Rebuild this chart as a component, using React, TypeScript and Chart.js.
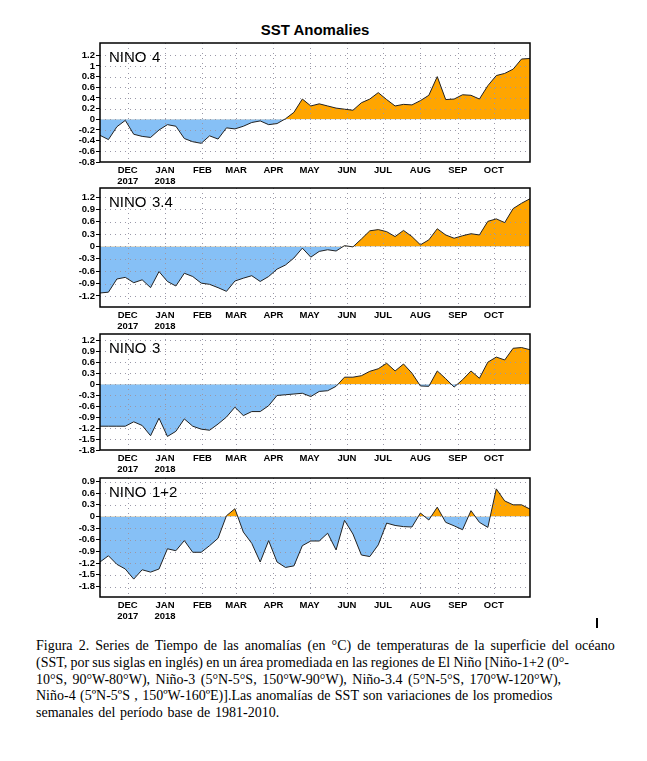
import React, { useEffect, useRef } from "react";
import { Chart, registerables } from "chart.js";

Chart.register(...registerables);

// ---- data (weekly, centred on Wednesdays from 8 Nov 2017 to 31 Oct 2018) ----
const startDate = "2017-11-08";
const nino4 = [-0.3, -0.38, -0.14, -0.02, -0.28, -0.32, -0.34, -0.2, -0.1, -0.13,
  -0.36, -0.42, -0.45, -0.31, -0.37, -0.16, -0.18, -0.13, -0.06, -0.03,
  -0.1, -0.08, 0.01, 0.13, 0.38, 0.25, 0.29, 0.25, 0.21, 0.19,
  0.17, 0.31, 0.38, 0.5, 0.37, 0.25, 0.28, 0.27, 0.35, 0.45,
  0.8, 0.37, 0.38, 0.46, 0.45, 0.38, 0.63, 0.82, 0.86, 0.94,
  1.13, 1.14];
const nino34 = [-1.13, -1.11, -0.79, -0.75, -0.88, -0.81, -1.0, -0.61, -0.85, -0.96,
  -0.65, -0.73, -0.89, -0.92, -1.0, -1.09, -0.84, -0.77, -0.71, -0.85,
  -0.73, -0.55, -0.45, -0.28, -0.04, -0.26, -0.12, -0.08, -0.11, 0.02,
  -0.01, 0.18, 0.38, 0.41, 0.36, 0.24, 0.39, 0.24, 0.04, 0.16,
  0.43, 0.28, 0.2, 0.26, 0.31, 0.28, 0.61, 0.67, 0.58, 0.92,
  1.05, 1.16];
const nino3 = [-1.15, -1.15, -1.15, -1.15, -1.03, -1.13, -1.41, -0.93, -1.43, -1.29,
  -0.95, -1.15, -1.23, -1.26, -1.09, -0.9, -0.63, -0.86, -0.75, -0.75,
  -0.59, -0.31, -0.29, -0.27, -0.25, -0.34, -0.2, -0.18, -0.06, 0.19,
  0.19, 0.23, 0.35, 0.42, 0.57, 0.36, 0.55, 0.3, -0.05, -0.06,
  0.36, 0.15, -0.08, 0.12, 0.36, 0.16, 0.6, 0.74, 0.66, 0.98,
  1.0, 0.94];
const nino12 = [-1.17, -1.01, -1.23, -1.35, -1.61, -1.37, -1.43, -1.35, -0.83, -0.88,
  -0.62, -0.92, -0.92, -0.75, -0.56, 0.02, 0.2, -0.4, -0.69, -1.17,
  -0.62, -1.17, -1.31, -1.27, -0.75, -0.63, -0.63, -0.43, -0.86, -0.1,
  -0.45, -0.99, -1.03, -0.73, -0.17, -0.23, -0.26, -0.27, 0.09, -0.09,
  0.24, -0.15, -0.24, -0.34, 0.15, -0.15, -0.28, 0.71, 0.4, 0.3,
  0.3, 0.19];

const monthTickDates = ["2017-12-01", "2018-01-01", "2018-02-01", "2018-03-01", "2018-04-01",
  "2018-05-01", "2018-06-01", "2018-07-01", "2018-08-01", "2018-09-01", "2018-10-01"];
const monthTickLabels: (string | string[])[] = [["DEC", "2017"], ["JAN", "2018"], "FEB", "MAR", "APR",
  "MAY", "JUN", "JUL", "AUG", "SEP", "OCT"];

const yTicks4 = [-0.8, -0.6, -0.4, -0.2, 0, 0.2, 0.4, 0.6, 0.8, 1, 1.2];
const yTicks34 = [-1.2, -0.9, -0.6, -0.3, 0, 0.3, 0.6, 0.9, 1.2];
const yTicks3 = [-1.8, -1.5, -1.2, -0.9, -0.6, -0.3, 0, 0.3, 0.6, 0.9, 1.2];
const yTicks12 = [-1.8, -1.5, -1.2, -0.9, -0.6, -0.3, 0, 0.3, 0.6, 0.9];

const panelNames = ["4", "3.4", "3", "1+2"];
const title = "SST Anomalies";
const captionLines = [
  "Figura 2. Series de Tiempo de las anomalías (en °C) de temperaturas de la superficie del océano",
  "(SST, por sus siglas en inglés) en un área promediada en las regiones de El Niño [Niño-1+2 (0°-",
  "10°S, 90°W-80°W), Niño-3 (5°N-5°S, 150°W-90°W), Niño-3.4 (5°N-5°S, 170°W-120°W),",
  "Niño-4 (5ºN-5ºS , 150ºW-160ºE)].Las anomalías de SST son variaciones de los promedios",
  "semanales del período base de 1981-2010.",
];

// ---- styles / layout ----
const captionWordSpacing = [2.6, -0.3, 2.0, 0.9, 1.2];

const DAY = 86400000;
const dayOffset = (d: string) => Math.round((Date.parse(d) - Date.parse(startDate)) / DAY);
const monthTickDays = monthTickDates.map(dayOffset);

const ORANGE = "#FFA500";
const BLUE = "#86C0F6";

const panels = [
  { name: panelNames[0], values: nino4, ticks: yTicks4, min: -0.8, max: 1.43, top: 43, bottom: 162 },
  { name: panelNames[1], values: nino34, ticks: yTicks34, min: -1.47, max: 1.42, top: 188, bottom: 307 },
  { name: panelNames[2], values: nino3, ticks: yTicks3, min: -1.8, max: 1.37, top: 334, bottom: 450 },
  { name: panelNames[3], values: nino12, ticks: yTicks12, min: -2.07, max: 0.99, top: 478, bottom: 597 },
];

const CANVAS_LEFT = 40;
const CANVAS_W = 500;
const PAD_TOP = 15;
const X_AXIS_H = 30;
const Y_AXIS_W = 60;
const PAD_RIGHT = 10;

const overlayPlugin = {
  id: "overlay",
  beforeDatasetsDraw(chart: any) {
    const { ctx, chartArea: a, scales } = chart;
    const x = scales.x, y = scales.y;
    ctx.save();
    ctx.beginPath();
    ctx.rect(a.left, a.top, a.right - a.left, a.bottom - a.top);
    ctx.clip();
    ctx.strokeStyle = "#9a98a8";
    ctx.lineWidth = 1;
    ctx.setLineDash([1, 4]);
    y.ticks.forEach((t: any) => {
      const py = Math.round(y.getPixelForValue(t.value)) + 0.5;
      ctx.beginPath();
      ctx.moveTo(a.left, py);
      ctx.lineTo(a.right, py);
      ctx.stroke();
    });
    x.ticks.forEach((t: any) => {
      const px = Math.round(x.getPixelForValue(t.value)) + 0.5;
      ctx.beginPath();
      ctx.moveTo(px, a.top);
      ctx.lineTo(px, a.bottom);
      ctx.stroke();
    });
    ctx.restore();
  },
  afterDatasetsDraw(chart: any, _args: any, opts: any) {
    const { ctx, chartArea: a } = chart;
    ctx.save();
    ctx.strokeStyle = "#000";
    ctx.lineWidth = 1.5;
    ctx.strokeRect(a.left, a.top, a.right - a.left, a.bottom - a.top);
    ctx.fillStyle = "#000";
    ctx.font = "15px 'Liberation Sans', Arial, sans-serif";
    ctx.textBaseline = "alphabetic";
    ctx.fillText("NINO", a.left + 9, a.top + 19);
    ctx.fillText(opts.name, a.left + 52, a.top + 19);
    ctx.restore();
  },
};

function Panel({ p }: { p: typeof panels[number] }) {
  const ref = useRef<HTMLCanvasElement>(null);
  const height = p.bottom - p.top + PAD_TOP + X_AXIS_H;
  useEffect(() => {
    if (!ref.current) return;
    const data = p.values.map((v, i) => ({ x: i * 7, y: v }));
    const lastDay = (p.values.length - 1) * 7;
    const chart = new Chart(ref.current, {
      type: "line",
      data: {
        datasets: [
          {
            data,
            borderColor: "#222",
            borderWidth: 1,
            pointRadius: 0,
            tension: 0,
            fill: { target: "origin", above: ORANGE, below: BLUE },
          } as any,
        ],
      },
      options: {
        animation: false,
        responsive: false,
        devicePixelRatio: 1,
        events: [],
        layout: { padding: { top: PAD_TOP, right: PAD_RIGHT, left: 0, bottom: 0 } },
        plugins: {
          legend: { display: false },
          tooltip: { enabled: false },
          filler: { drawTime: "beforeDatasetsDraw" } as any,
          overlay: { name: p.name } as any,
        } as any,
        scales: {
          x: {
            type: "linear",
            min: 0,
            max: lastDay,
            border: { display: false },
            grid: { display: false, drawTicks: false },
            afterBuildTicks: (s: any) => {
              s.ticks = monthTickDays.map((v) => ({ value: v }));
            },
            afterFit: (s: any) => {
              s.height = X_AXIS_H;
            },
            ticks: {
              autoSkip: false,
              maxRotation: 0,
              padding: 3,
              color: "#000",
              font: { family: "'Liberation Sans', Arial, sans-serif", size: 9.5, weight: "bold", lineHeight: 1.15 },
              callback: (_v: any, i: number) => monthTickLabels[i],
            },
          },
          y: {
            type: "linear",
            min: p.min,
            max: p.max,
            border: { display: false },
            grid: {
              drawOnChartArea: false,
              drawTicks: true,
              tickLength: 4,
              tickColor: "#000",
              tickWidth: 1,
            } as any,
            afterBuildTicks: (s: any) => {
              s.ticks = p.ticks.map((v) => ({ value: v }));
            },
            afterFit: (s: any) => {
              s.width = Y_AXIS_W;
            },
            ticks: {
              autoSkip: false,
              padding: 1,
              color: "#000",
              font: { family: "'Liberation Sans', Arial, sans-serif", size: 9.5, weight: "bold" },
              callback: (v: any) => String(Number(Number(v).toFixed(1))),
            },
          },
        },
      },
      plugins: [overlayPlugin as any],
    });
    return () => chart.destroy();
  }, [p]);
  return (
    <canvas
      ref={ref}
      width={CANVAS_W}
      height={height}
      style={{ position: "absolute", left: CANVAS_LEFT, top: p.top - PAD_TOP, width: CANVAS_W, height }}
    />
  );
}

export default function App() {
  return (
    <div style={{ position: "absolute", left: 0, top: 0, width: 647, height: 761, background: "#fff", overflow: "hidden" }}>
      <div
        style={{
          position: "absolute",
          left: 0,
          width: 630,
          top: 20,
          textAlign: "center",
          font: "bold 15px 'Liberation Sans', Arial, sans-serif",
          lineHeight: "20px",
          color: "#000",
        }}
      >
        {title}
      </div>
      {panels.map((p) => (
        <Panel key={p.name} p={p} />
      ))}
      <div style={{ position: "absolute", left: 596, top: 618, width: 2, height: 10, background: "#000" }} />
      <div
        style={{
          position: "absolute",
          left: 36,
          top: 638,
          font: "14px 'Liberation Serif', 'Times New Roman', serif",
          lineHeight: "16.8px",
          color: "#000",
          whiteSpace: "pre",
        }}
      >
        {captionLines.map((l, i) => (
          <div key={i} style={{ wordSpacing: captionWordSpacing[i] }}>{l}</div>
        ))}
      </div>
    </div>
  );
}
